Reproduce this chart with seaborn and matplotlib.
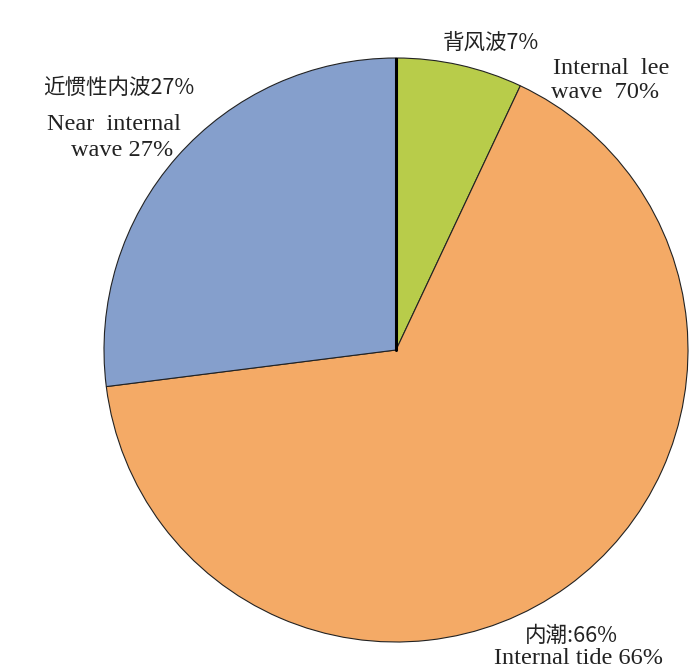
import matplotlib
matplotlib.use('Agg')
import matplotlib.pyplot as plt
import seaborn as sns

# slice order: clockwise from 12 o'clock
categories = ['背风波', '内潮', '近惯性内波']
shares = [7, 66, 27]
slice_colors = ['#b8cc4a', '#f4aa66', '#859fcc']

sns.set_theme(style='white')
plt.rcParams['font.family'] = ['Liberation Serif', 'Noto Sans CJK SC', 'DejaVu Sans']

fig = plt.figure(figsize=(7, 6.71), dpi=100)
W, H = 700, 671
cx, cy, r = 396, 350, 292
ax = fig.add_axes([(cx - r) / W, (H - cy - r) / H, 2 * r / W, 2 * r / H])

wedges, _ = ax.pie(shares, colors=slice_colors, startangle=90, counterclock=False,
                   wedgeprops=dict(edgecolor='#222222', linewidth=0.8))
ax.plot([0, 0], [0, 1], color='black', lw=2.2)
ax.set_xlim(-1, 1)
ax.set_ylim(-1, 1)


def label(x, y, s, cjk=False, **kw):
    fam = ['Noto Sans CJK SC', 'Liberation Serif'] if cjk else ['Liberation Serif', 'Noto Sans CJK SC']
    fig.text(x / W, 1 - y / H, s, family=fam, fontsize=15.5 if cjk else 17.5,
             color='#222222', va='center', **kw)


label(119, 88, '近惯性内波27%', cjk=True, ha='center')
label(114, 124, 'Near  internal', ha='center')
label(122, 150, 'wave 27%', ha='center')
label(491, 43, '背风波7%', cjk=True, ha='center')
label(611, 68, 'Internal  lee', ha='center')
label(605, 93, 'wave  70%', ha='center')
label(571, 636, '内潮:66%', cjk=True, ha='center')
label(578, 658, 'Internal tide 66%', ha='center')

fig.savefig('out.png', dpi=100)
